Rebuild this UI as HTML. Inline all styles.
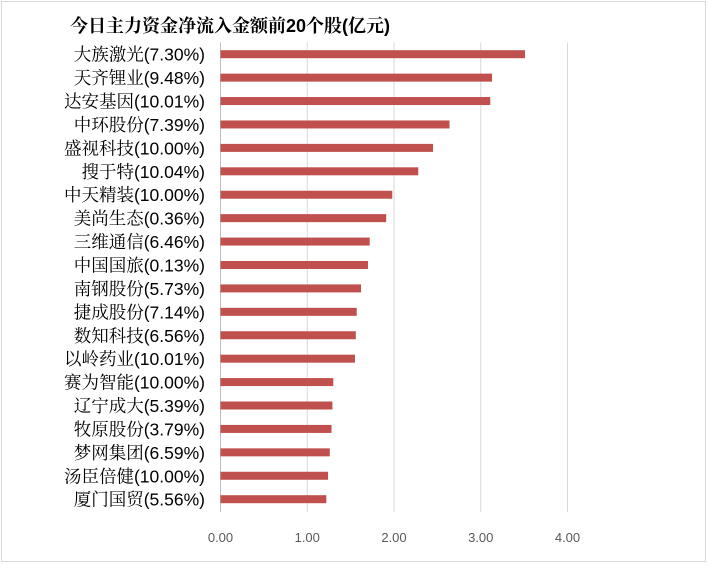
<!DOCTYPE html>
<html><head><meta charset="utf-8"><style>
body{margin:0;background:#fff;}
svg text{font-family:"Liberation Sans","Noto Serif CJK SC",serif;}
</style></head><body>
<svg width="708" height="564">
<rect x="1.5" y="1.5" width="704" height="560" fill="#fff" stroke="#d9d9d9"/>
<text x="70" y="32" font-size="18" font-weight="bold" fill="#000">今日主力资金净流入金额前20个股(亿元)</text>
<g id="grid"></g><g id="bars"></g><g id="labels"></g><g id="ticks"></g>
</svg>
<script>
const categories=["大族激光(7.30%)","天齐锂业(9.48%)","达安基因(10.01%)","中环股份(7.39%)","盛视科技(10.00%)","搜于特(10.04%)","中天精装(10.00%)","美尚生态(0.36%)","三维通信(6.46%)","中国国旅(0.13%)","南钢股份(5.73%)","捷成股份(7.14%)","数知科技(6.56%)","以岭药业(10.01%)","赛为智能(10.00%)","辽宁成大(5.39%)","牧原股份(3.79%)","梦网集团(6.59%)","汤臣倍健(10.00%)","厦门国贸(5.56%)"];
const values=[3.51,3.13,3.11,2.64,2.45,2.28,1.98,1.91,1.72,1.70,1.62,1.57,1.56,1.55,1.30,1.29,1.28,1.26,1.24,1.22];
const tickValues=[0,1,2,3,4];
const tickLabels=["0.00","1.00","2.00","3.00","4.00"];
const NS="http://www.w3.org/2000/svg";
const xScale=v=>220.5+v*86.75;
const plotTop=42.5,step=23.42;
const yc=i=>plotTop+step*(i+0.5);
function mk(t,a,p){const e=document.createElementNS(NS,t);for(const k in a)e.setAttribute(k,a[k]);document.getElementById(p).appendChild(e);return e;}
tickValues.forEach((t,i)=>{
 const l=mk('line',{x1:xScale(t),x2:xScale(t),y1:plotTop,y2:512,stroke:i==0?'#bfbfbf':'#d9d9d9','stroke-width':1},'grid');
 
 
 const tx=mk('text',{x:xScale(t),y:542,'font-size':13,fill:'#595959','text-anchor':'middle'},'ticks');
 tx.textContent=tickLabels[i];
 
 
});
categories.forEach((c,i)=>{
 const r=mk('rect',{x:xScale(0),y:yc(i)-4,width:xScale(values[i])-xScale(0),height:8,fill:'#c0504d'},'bars');
 
 
 const t=mk('text',{x:205,y:yc(i)+6.5,'font-size':17.5,fill:'#000','text-anchor':'end'},'labels');
 t.textContent=c;
 
 
});
</script>
</body></html>
